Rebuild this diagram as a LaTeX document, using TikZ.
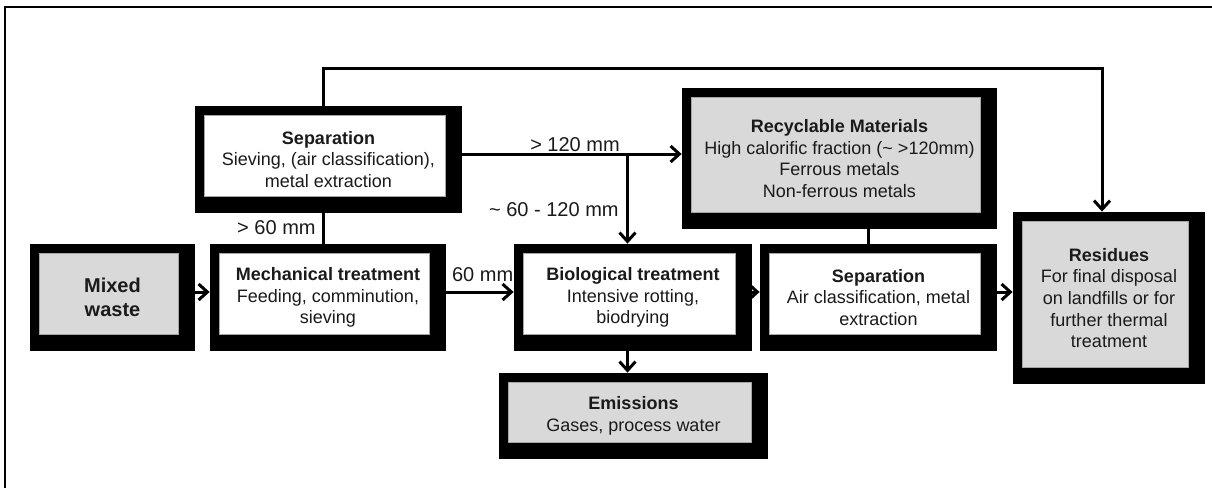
\documentclass[tikz,border=0pt]{standalone}
\usepackage{fontspec}
\setmainfont{Liberation Sans}
\usepackage{tikz}
\usetikzlibrary{arrows.meta,calc,positioning}
\definecolor{mbInk}{HTML}{1A1A1A}
\definecolor{mbGrey}{HTML}{D9D9D9}
\definecolor{mbEdge}{HTML}{A6A6A6}
\tikzset{
  mb frame/.style={
    fill=black, inner sep=0pt, align=center, text=mbInk,
    font=\fontsize{9}{10.8}\selectfont,
    path picture={
      \path[fill=#1, draw=mbEdge, line width=.4pt]
        ([shift={(9,9)}]path picture bounding box.north west)
        rectangle ([shift={(-17,-17)}]path picture bounding box.south east);
    }
  },
  mb step/.style={mb frame=white},
  mb stock/.style={mb frame=mbGrey},
  mb flow/.style={
    draw=black,
    line width=1.5pt,
    -{Straight Barb[length=4.4pt,width=8pt,line width=1.5pt]}
  },
  mb link/.style={draw=black, line width=1.5pt},
  mb label/.style={font=\fontsize{10}{12}\selectfont, text=mbInk, inner sep=1pt}
}

\begin{document}
\begin{tikzpicture}[x=.5pt,y=-.5pt]
  \useasboundingbox (0,0) rectangle (1212,488);
  \draw[line width=1.1pt] (5,488) -- (5,7) -- (1212,7);

  \node[mb label] (lt60) at (474,275) {< 60 mm};

  \node[mb stock, minimum width=82.5pt, minimum height=53.5pt,
    font=\fontsize{10}{11.8}\selectfont\bfseries] (mix) at (112.5,297.5)
    {Mixed\\waste};
  \node[mb step, minimum width=118pt, minimum height=53.5pt] (mech) at (328,297.5)
    {\textbf{Mechanical treatment}\\Feeding, comminution,\\sieving};
  \node[mb step, minimum width=119pt, minimum height=53.5pt] (bio) at (633,297.5)
    {\textbf{Biological treatment}\\Intensive rotting,\\biodrying};
  \node[mb step, minimum width=118.5pt, minimum height=53.5pt] (sepair) at (878.5,297.5)
    {\textbf{Separation}\\Air classification, metal\\extraction};
  \node[mb step, minimum width=133.5pt, minimum height=53.5pt] (sepsieve) at (328.5,159.5)
    {\textbf{Separation}\\Sieving, (air classification),\\metal extraction};
  \node[mb stock, minimum width=157.5pt, minimum height=70.5pt] (recycl) at (839.5,158.5)
    {\textbf{Recyclable Materials}\\High calorific fraction (\textasciitilde{} >120mm)\\Ferrous metals\\Non-ferrous metals};
  \node[mb stock, minimum width=96pt, minimum height=86pt] (resid) at (1109,298)
    {\textbf{Residues}\\For final disposal\\on landfills or for\\further thermal\\treatment};
  \node[mb stock, minimum width=134.5pt, minimum height=43pt] (emiss) at (633.5,416)
    {\textbf{Emissions}\\Gases, process water};

  \path ([yshift=2.75pt]sepsieve.east) coordinate (sieveout)
    ([xshift=-2.75pt]bio.north) coordinate (bioin);
  \coordinate (split) at (bioin |- sieveout);

  \draw[mb flow] ([yshift=2.75pt]mix.east) -- ([yshift=2.75pt]mech.west);
  \draw[mb flow] ([yshift=2.75pt]mech.east) -- ([yshift=2.75pt]bio.west);
  \draw[mb flow] ([yshift=2.75pt]bio.east) -- ([yshift=2.75pt]sepair.west);
  \draw[mb flow] ([yshift=2.75pt]sepair.east) -- ([yshift=2.75pt]sepair.east -| resid.west);
  \draw[mb link] ([xshift=-2.75pt]sepsieve.south) -- ([xshift=-2.75pt]sepsieve.south |- mech.north);
  \draw[mb flow] (sieveout) -- (sieveout -| recycl.west);
  \draw[mb flow] (split) -- (bioin);
  \draw[mb flow] ([xshift=-2.75pt]bio.south) -- ([xshift=-2.75pt]bio.south |- emiss.north);
  \draw[mb link] ([xshift=-5.25pt]sepair.north) -- ([xshift=-5.25pt]sepair.north |- recycl.south);
  \draw[mb flow] ([xshift=-2.75pt]sepsieve.north) -- ++(0,-37) -| ([xshift=-3.5pt]resid.north);

  \node[mb label, anchor=east] (gt60) at (318,228) {> 60 mm};
  \node[mb label] (gt120) at (575,145) {> 120 mm};
  \node[mb label, anchor=east] (mid) at (621,210) {\textasciitilde{} 60 - 120 mm};
\end{tikzpicture}
\end{document}
